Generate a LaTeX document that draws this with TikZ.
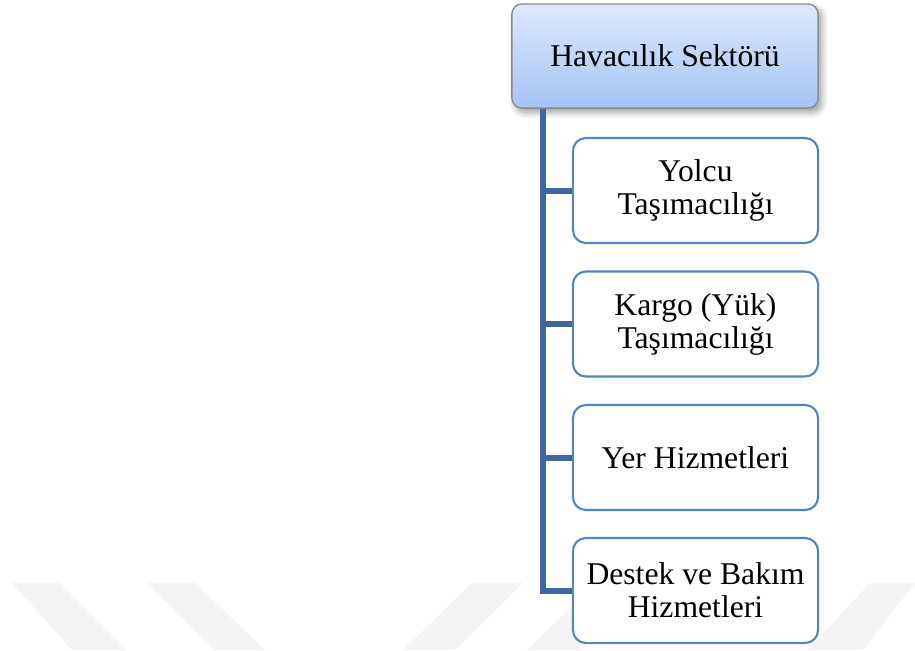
\documentclass[tikz,border=0pt]{standalone}
\usepackage{fontspec}
\setmainfont{Liberation Serif}
\usetikzlibrary{positioning, shadows.blur}
\definecolor{kolmavi}{RGB}{64,104,158}
\definecolor{kutumavi}{RGB}{84,132,194}
\definecolor{ustacik}{RGB}{222,232,251}
\definecolor{ustkoyu}{RGB}{165,196,245}
\definecolor{filigran}{RGB}{244,244,244}

\begin{document}
\begin{tikzpicture}[x=0.01cm, y=-0.01cm,
    ana/.style={draw={rgb,255:red,140;green,140;blue,140}, line width=0.4pt,
      rounded corners=0.1cm, top color=ustacik, bottom color=ustkoyu,
      minimum width=3.06cm, minimum height=1.04cm, align=center,
      font=\fontsize{9}{9.4}\selectfont,
      blur shadow={shadow xshift=1pt, shadow yshift=-1.2pt, shadow blur steps=6, shadow opacity=40}},
    dal/.style={draw=kutumavi, line width=0.6pt, fill=white,
      rounded corners=0.13cm, minimum width=2.45cm, minimum height=1.05cm,
      align=center, font=\fontsize{9}{9.4}\selectfont},
    kol/.style={draw=kolmavi, line width=0.06cm, line join=miter}]
    \useasboundingbox (0,0) rectangle (915,650);
    % filigran
    \fill[filigran] (12,583) -- (60,583) -- (127,650) -- (72,650) -- cycle;
    \fill[filigran] (147,583) -- (195,583) -- (265,650) -- (215,650) -- cycle;
    \fill[filigran] (472,583) -- (523,583) -- (455,650) -- (403,650) -- cycle;
    \fill[filigran] (596,583) -- (647,583) -- (579,650) -- (527,650) -- cycle;
    \fill[filigran] (870,583) -- (915,583) -- (863,650) -- (808,650) -- cycle;

    \node[ana] (sektor) at (665,56) {Havacılık Sektörü};
    \node[dal] (yolcu) at (695.5,190.5) {Yolcu\\Taşımacılığı};
    \node[dal] (kargo) at (695.5,324) {Kargo (Yük)\\Taşımacılığı};
    \node[dal] (yer) at (695.5,457.5) {Yer Hizmetleri};
    \node[dal] (destek) at (695.5,590.5) {Destek ve Bakım\\Hizmetleri};

    \coordinate (govde) at (543,0);
    \draw[kol] (sektor.south -| govde) |- (destek.west);
    \foreach \d in {yolcu, kargo, yer}
        \draw[kol] (sektor.south -| govde) |- (\d.west);
\end{tikzpicture}
\end{document}
